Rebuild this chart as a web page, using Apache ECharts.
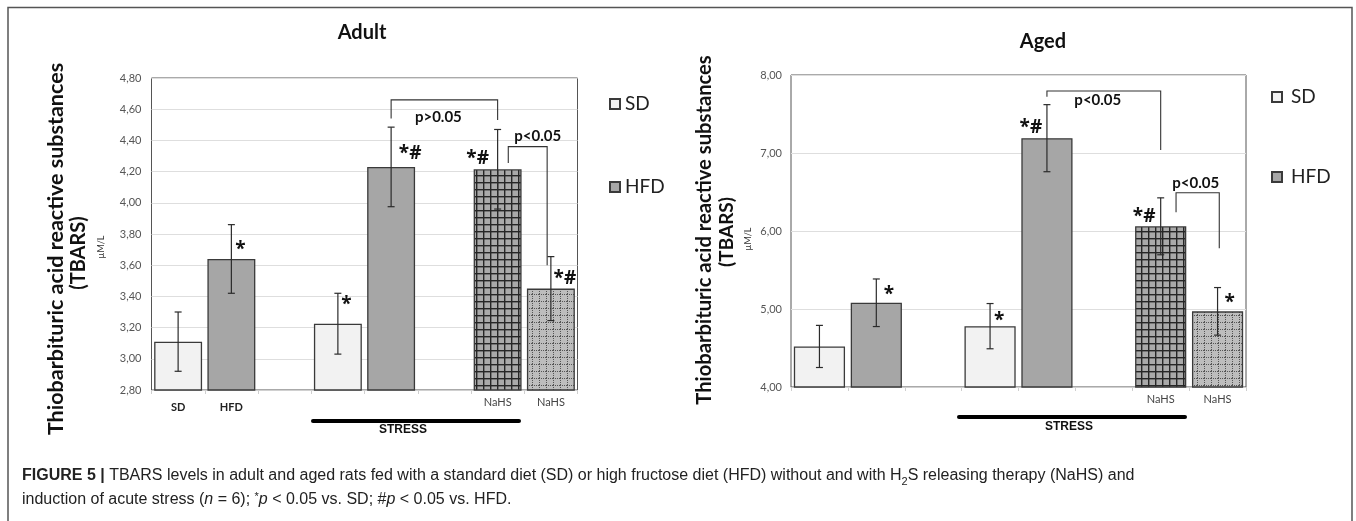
<!DOCTYPE html>
<html>
<head>
<meta charset="utf-8">
<title>TBARS levels - adult and aged rats</title>
<script src="https://cdn.jsdelivr.net/npm/echarts@6.0.0/dist/echarts.min.js"></script>
<style>
  html, body { margin: 0; padding: 0; background: #fff; }
  #chart { width: 1356px; height: 521px; }
</style>
</head>
<body>
<div id="chart"></div>
<script>
// slots on the x axis: SD, HFD, gap, SD+stress, HFD+stress, gap, SD+stress+NaHS, HFD+stress+NaHS
const adultSlotLabels = ['SD', 'HFD', '', '', '', '', 'NaHS', 'NaHS'];
const agedSlotLabels = ['', '', '', '', '', '', 'NaHS', 'NaHS'];

// means per group: [control, stress, stress + NaHS]
const adultSD = [3.11, 3.225, 4.215];
const adultHFD = [3.64, 4.23, 3.45];
const adultSDErr = [0.19, 0.195, 0.255];
const adultHFDErr = [0.22, 0.255, 0.205];

const agedSD = [4.52, 4.78, 6.06];
const agedHFD = [5.08, 7.19, 4.97];
const agedSDErr = [0.27, 0.29, 0.365];
const agedHFDErr = [0.305, 0.43, 0.305];

// significance marks over each bar
const adultSDMarks = ['', '*', '*#'];
const adultHFDMarks = ['*', '*#', '*#'];
const agedSDMarks = ['', '*', '*#'];
const agedHFDMarks = ['*', '*#', '*'];

// y axis: [min, max, step]
const adultAxis = [2.8, 4.8, 0.2];
const agedAxis = [4, 8, 1];

// comparison brackets (slot positions, heights in µM/L)
const adultBrackets = [
  { from: 4, to: 6, fromY: 4.54, toY: 4.53, topY: 4.66, text: 'p>0.05' },
  { from: 6.2, to: 6.93, fromY: 4.255, toY: 3.6, topY: 4.36, text: 'p<0.05' }
];
const agedBrackets = [
  { from: 4, to: 6, fromY: 7.72, toY: 7.04, topY: 7.795, text: 'p<0.05' },
  { from: 6.27, to: 7.03, fromY: 6.24, toY: 5.78, topY: 6.49, text: 'p<0.05' }
];

const sdSlots = [0, 3, 6];
const hfdSlots = [1, 4, 7];

function gridPattern(base, line, size, dotted) {
  const c = document.createElement('canvas');
  c.width = c.height = size;
  const ctx = c.getContext('2d');
  ctx.fillStyle = base;
  ctx.fillRect(0, 0, size, size);
  ctx.fillStyle = line;
  if (!dotted) {
    ctx.fillRect(0, 0, size, 1.4);
    ctx.fillRect(0, 0, 1.4, size);
  } else {
    for (let i = 0; i < size; i += 2) {
      ctx.fillRect(i, 0, 1, 1);
      ctx.fillRect(0, i, 1, 1);
    }
  }
  return c;
}
const coarseGrid = gridPattern('#a9a9a9', '#262626', 7, false);
const fineGrid = gridPattern('#bdbdbd', '#555', 7, true);

function barData(values, slots, pattern) {
  const arr = new Array(8).fill('-');
  values.forEach((v, i) => {
    arr[slots[i]] = i === 2
      ? { value: v, itemStyle: { color: { image: pattern, repeat: 'repeat' } } }
      : v;
  });
  return arr;
}

function errData(values, errs, slots) {
  return values.map((v, i) => [slots[i], v, errs[i]]);
}

// offsets of the marks from the top centre of the bar, in px
const markOffsets = {
  adult: { 1: [9, -9], 3: [8.5, -19], 4: [19, -13], 6: [-20, -11], 7: [14, -10] },
  aged: { 1: [12.6, -8], 3: [9, -6], 4: [-16, -11], 6: [-16.5, -10], 7: [12, -9] }
};

function marksData(sdVals, hfdVals, sdMarks, hfdMarks) {
  const out = [];
  sdVals.forEach((v, i) => { if (sdMarks[i]) out.push({ value: [sdSlots[i], v], text: sdMarks[i] }); });
  hfdVals.forEach((v, i) => { if (hfdMarks[i]) out.push({ value: [hfdSlots[i], v], text: hfdMarks[i] }); });
  return out;
}

const LINE = '#2b2b2b';

function errorSeries(name, idx, data) {
  return {
    name: name, type: 'custom', xAxisIndex: idx, yAxisIndex: idx, z: 5,
    data: data,
    encode: { x: 0, y: 1 },
    renderItem: function (params, api) {
      const s = api.value(0), m = api.value(1), e = api.value(2);
      const hi = api.coord([s, m + e]);
      const lo = api.coord([s, m - e]);
      const cap = 3.5;
      const st = { stroke: LINE, lineWidth: 1.2 };
      return {
        type: 'group', children: [
          { type: 'line', shape: { x1: hi[0], y1: hi[1], x2: lo[0], y2: lo[1] }, style: st },
          { type: 'line', shape: { x1: hi[0] - cap, y1: hi[1], x2: hi[0] + cap, y2: hi[1] }, style: st },
          { type: 'line', shape: { x1: lo[0] - cap, y1: lo[1], x2: lo[0] + cap, y2: lo[1] }, style: st }
        ]
      };
    }
  };
}

function markSeries(name, idx, data, offsets) {
  return {
    name: name, type: 'custom', xAxisIndex: idx, yAxisIndex: idx, z: 6,
    data: data.map(d => d.value),
    encode: { x: 0, y: 1 },
    renderItem: function (params, api) {
      const d = data[params.dataIndex];
      const p = api.coord([api.value(0), api.value(1)]);
      const off = offsets[api.value(0)];
      return {
        type: 'text', x: p[0] + off[0], y: p[1] + off[1],
        style: {
          text: d.text, fill: '#111', font: 'bold 19px "Open Sans", sans-serif',
          align: 'center', verticalAlign: 'middle'
        }
      };
    }
  };
}

function bracketSeries(name, idx, brackets, textSide) {
  return {
    name: name, type: 'custom', xAxisIndex: idx, yAxisIndex: idx, z: 6, clip: false,
    data: brackets.map(b => [Math.floor(b.from), b.topY]),
    encode: { x: 0, y: 1 },
    renderItem: function (params, api) {
      const b = brackets[params.dataIndex];
      const band = api.size([1, 0])[0];
      const px = s => api.coord([Math.floor(s), b.topY])[0] + (s - Math.floor(s)) * band;
      const py = v => api.coord([0, v])[1];
      const x1 = px(b.from), x2 = px(b.to);
      const yt = py(b.topY);
      const side = textSide[params.dataIndex];
      return {
        type: 'group', children: [
          {
            type: 'polyline',
            shape: { points: [[x1, py(b.fromY)], [x1, yt], [x2, yt], [x2, py(b.toY)]] },
            style: { stroke: '#333', lineWidth: 1.1, fill: null }
          },
          {
            type: 'text', x: (x1 + x2) / 2 + side[0], y: yt + side[1],
            style: {
              text: b.text, fill: '#111', font: 'bold 15px Lato, sans-serif',
              align: 'center', verticalAlign: 'middle'
            }
          }
        ]
      };
    }
  };
}

const axisFont = 'Lato, sans-serif';

function xAxisFor(idx, labels) {
  return {
    type: 'category', gridIndex: idx, data: labels,
    axisLine: { lineStyle: { color: '#d0d0d0' } },
    axisTick: { show: true, length: 4, lineStyle: { color: '#cfcfcf' } },
    axisLabel: {
      interval: 0, margin: 3,
      formatter: v => v === 'NaHS' ? '{n|' + v + '}' : (v ? '{b|' + v + '}' : ''),
      rich: {
        b: { fontFamily: axisFont, fontWeight: 'bold', fontSize: 11, color: '#222', lineHeight: 28 },
        n: { fontFamily: axisFont, fontSize: 11, color: '#444', lineHeight: 18 }
      }
    }
  };
}

function yAxisFor(idx, ax, margin) {
  return {
    type: 'value', gridIndex: idx, min: ax[0], max: ax[1], interval: ax[2],
    axisLine: { show: false }, axisTick: { show: false },
    splitLine: { lineStyle: { color: '#dedede' } },
    axisLabel: {
      margin: margin, fontFamily: axisFont, fontSize: 11, color: '#555',
      formatter: v => v.toFixed(2).replace('.', ',')
    }
  };
}

const sdStyle = { color: '#f2f2f2', borderColor: '#3a3a3a', borderWidth: 1.3 };
const hfdStyle = { color: '#a6a6a6', borderColor: '#3a3a3a', borderWidth: 1.3 };

function barSeries(name, idx, data, style) {
  return {
    name: name, type: 'bar', xAxisIndex: idx, yAxisIndex: idx,
    barGap: '-100%', barCategoryGap: '10%',
    itemStyle: style, data: data
  };
}

function vText(x, y, text, font, color) {
  return {
    type: 'text', x: x, y: y, rotation: Math.PI / 2,
    style: { text: text, font: font, fill: color || '#111', align: 'center', verticalAlign: 'middle' }
  };
}

const chart = echarts.init(document.getElementById('chart'), null, { renderer: 'canvas' });

chart.setOption({
  animation: false,
  backgroundColor: '#fff',
  grid: [
    { left: 151.5, top: 78, width: 426, height: 312, show: true, borderColor: '#555', borderWidth: 1, containLabel: false },
    { left: 791, top: 75, width: 455, height: 312, show: true, borderColor: '#555', borderWidth: 1, containLabel: false }
  ],
  xAxis: [xAxisFor(0, adultSlotLabels), xAxisFor(1, agedSlotLabels)],
  yAxis: [yAxisFor(0, adultAxis, 10), yAxisFor(1, agedAxis, 9)],
  legend: [
    {
      data: ['SD', 'HFD'], orient: 'vertical', left: 604, top: 89, itemGap: 63,
      itemWidth: 10, itemHeight: 10, icon: 'rect', selectedMode: false,
      textStyle: { fontFamily: axisFont, fontSize: 19, color: '#222', lineHeight: 20 }
    },
    {
      data: ['SD', 'HFD'], orient: 'vertical', left: 1266, top: 82, itemGap: 60,
      itemWidth: 10, itemHeight: 10, icon: 'rect', selectedMode: false,
      textStyle: { fontFamily: axisFont, fontSize: 19, color: '#222', lineHeight: 20, padding: [0, 0, 0, 4] }
    }
  ],
  series: [
    barSeries('SD', 0, barData(adultSD, sdSlots, coarseGrid), sdStyle),
    barSeries('HFD', 0, barData(adultHFD, hfdSlots, fineGrid), hfdStyle),
    barSeries('SD', 1, barData(agedSD, sdSlots, coarseGrid), sdStyle),
    barSeries('HFD', 1, barData(agedHFD, hfdSlots, fineGrid), hfdStyle),
    errorSeries('err-adult', 0, errData(adultSD, adultSDErr, sdSlots).concat(errData(adultHFD, adultHFDErr, hfdSlots))),
    errorSeries('err-aged', 1, errData(agedSD, agedSDErr, sdSlots).concat(errData(agedHFD, agedHFDErr, hfdSlots))),
    markSeries('marks-adult', 0, marksData(adultSD, adultHFD, adultSDMarks, adultHFDMarks), markOffsets.adult),
    markSeries('marks-aged', 1, marksData(agedSD, agedHFD, agedSDMarks, agedHFDMarks), markOffsets.aged),
    bracketSeries('br-adult', 0, adultBrackets, [[-6, 17], [10, -10]]),
    bracketSeries('br-aged', 1, agedBrackets, [[-6, 9], [-2, -10]])
  ],
  graphic: [
    // outer frame
    { type: 'polyline', shape: { points: [[8, 521], [8, 7.5], [1352, 7.5], [1352, 521]] }, style: { stroke: '#555', lineWidth: 1.5, fill: null } },
    // panel titles
    { type: 'text', x: 362, y: 33, style: { text: 'Adult', font: 'bold 20px Lato, sans-serif', fill: '#111', align: 'center', verticalAlign: 'middle' } },
    { type: 'text', x: 1043, y: 42, style: { text: 'Aged', font: 'bold 20px Lato, sans-serif', fill: '#111', align: 'center', verticalAlign: 'middle' } },
    // y axis titles
    vText(56, 249, 'Thiobarbituric acid reactive substances', 'bold 21.5px Lato, sans-serif'),
    vText(79, 253, '(TBARS)', 'bold 20px Lato, sans-serif'),
    vText(101, 247, 'µM/L', '9px Lato, sans-serif', '#333'),
    vText(704, 230, 'Thiobarbituric acid reactive substances', 'bold 20.2px Lato, sans-serif'),
    vText(727, 232, '(TBARS)', 'bold 19px Lato, sans-serif'),
    vText(748, 239, 'µM/L', '9px Lato, sans-serif', '#333'),
    // stress bars
    { type: 'line', shape: { x1: 313, y1: 421, x2: 519, y2: 421 }, style: { stroke: '#000', lineWidth: 4, lineCap: 'round' } },
    { type: 'text', x: 403, y: 430, style: { text: 'STRESS', font: 'bold 12px "Liberation Sans", Arial, sans-serif', fill: '#111', align: 'center', verticalAlign: 'middle' } },
    { type: 'line', shape: { x1: 959, y1: 417, x2: 1185, y2: 417 }, style: { stroke: '#000', lineWidth: 4, lineCap: 'round' } },
    { type: 'text', x: 1069, y: 427, style: { text: 'STRESS', font: 'bold 12px "Liberation Sans", Arial, sans-serif', fill: '#111', align: 'center', verticalAlign: 'middle' } },
    // caption
    {
      type: 'text', x: 22, y: 476,
      style: {
        text: '{b|FIGURE 5 |} TBARS levels in adult and aged rats fed with a standard diet (SD) or high fructose diet (HFD) without and with H{sub|2}S releasing therapy (NaHS) and',
        font: '16px "Liberation Sans", Arial, sans-serif', fill: '#222', verticalAlign: 'middle',
        rich: {
          b: { fontWeight: 'bold', fontSize: 16, fontFamily: '"Liberation Sans", Arial, sans-serif', fill: '#222' },
          sub: { fontSize: 11, fontFamily: '"Liberation Sans", Arial, sans-serif', verticalAlign: 'bottom', lineHeight: 22, fill: '#222' }
        }
      }
    },
    {
      type: 'text', x: 22, y: 500,
      style: {
        text: 'induction of acute stress ({i|n} = 6); {sup|*}{i|p} < 0.05 vs. SD; #{i|p} < 0.05 vs. HFD.',
        font: '16px "Liberation Sans", Arial, sans-serif', fill: '#222', verticalAlign: 'middle',
        rich: {
          i: { fontStyle: 'italic', fontSize: 16, fontFamily: '"Liberation Sans", Arial, sans-serif', fill: '#222' },
          sup: { fontSize: 11, fontFamily: '"Liberation Sans", Arial, sans-serif', verticalAlign: 'top', lineHeight: 18, fill: '#222' }
        }
      }
    }
  ]
});
</script>
</body>
</html>
